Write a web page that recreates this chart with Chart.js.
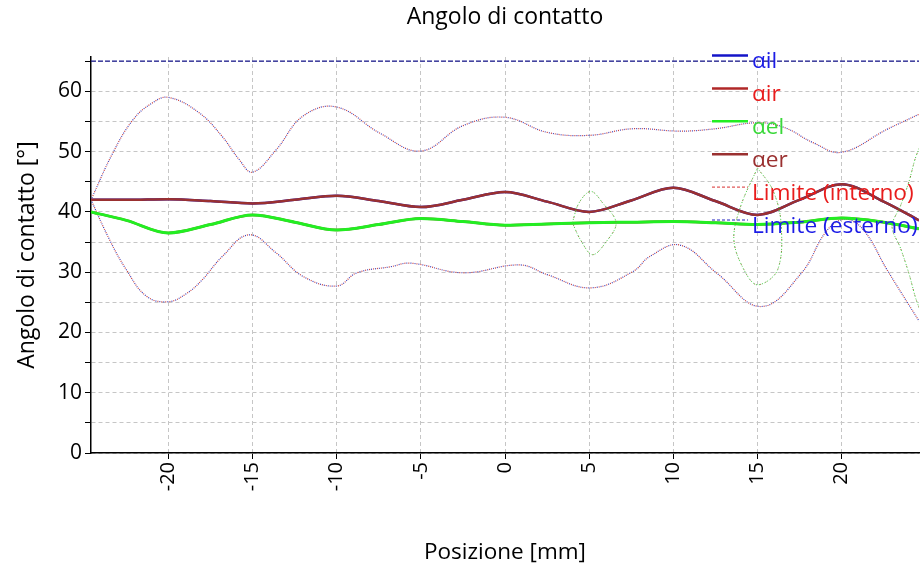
<!DOCTYPE html>
<html>
<head>
<meta charset="utf-8">
<title>Angolo di contatto</title>
<script src="https://cdn.jsdelivr.net/npm/chart.js@4.4.1/dist/chart.umd.min.js"></script>
<style>
  html, body { margin: 0; padding: 0; background: #fff; }
</style>
</head>
<body>
<canvas id="myChart" width="920" height="574"></canvas>
<script>
// ---------------- data ----------------
const posizione = [-24.6, -22.5, -20, -17.5, -15, -12.5, -10, -7.5, -5, -2.5, 0, 2.5, 5, 7.5, 10, 12.5, 15, 17.5, 20, 22.5, 24.6];
const alphaEr = [42.0, 42.0, 42.1, 41.8, 41.4, 42.0, 42.7, 41.8, 40.8, 42.0, 43.3, 41.7, 40.0, 41.9, 44.0, 41.8, 39.5, 42.0, 44.6, 41.7, 38.6];
const alphaEl = [40.0, 38.6, 36.5, 37.9, 39.5, 38.3, 37.0, 37.9, 38.9, 38.4, 37.8, 38.0, 38.2, 38.3, 38.4, 38.2, 37.9, 38.3, 39.0, 38.3, 37.2];
const alphaIl = [42.0, 42.0, 42.1, 41.8, 41.4, 42.0, 42.7, 41.8, 40.8, 42.0, 43.3, 41.7, 40.0, 41.9, 44.0, 41.8, 39.5, 42.0, 44.6, 41.7, 38.6];
const alphaIr = [40.0, 38.6, 36.5, 37.9, 39.5, 38.3, 37.0, 37.9, 38.9, 38.4, 37.8, 38.0, 38.2, 38.3, 38.4, 38.2, 37.9, 38.3, 39.0, 38.3, 37.2];

// limit envelope, upper branch
const limSupX = [-24.6, -23.3, -22.1, -21.0, -20, -18.2, -16.8, -15.8, -15, -13.6, -12, -10, -7.4, -5, -2.5, 0, 2.5, 5, 7.6, 10.4, 12.5, 15, 16.6, 18.3, 20, 22.7, 24.6];
const limSupY = [42.0, 49.8, 55.3, 58.0, 59.0, 56.5, 52.5, 48.7, 46.6, 50.3, 55.9, 57.4, 53.0, 50.1, 54.3, 55.7, 53.2, 52.7, 53.8, 53.4, 53.8, 54.8, 54.0, 51.5, 49.9, 53.7, 56.2];
// limit envelope, lower branch
const limInfX = [-24.6, -23.5, -22.5, -21.3, -20, -18.9, -18, -16.8, -15.2, -13.6, -12, -10, -8.8, -6.8, -5.6, -2.5, 0.9, 2.5, 5.1, 7.6, 8.6, 10.4, 12.6, 15.2, 17.6, 19.1, 20.2, 21.3, 22.7, 24.6];
const limInfY = [42.0, 35.4, 30.4, 26.0, 25.1, 26.5, 28.7, 32.6, 36.2, 33.2, 29.3, 27.7, 29.9, 30.9, 31.5, 29.9, 31.2, 29.6, 27.4, 30.1, 32.6, 34.5, 29.8, 24.3, 29.8, 36.8, 38.8, 37.0, 30.4, 21.9];
// outer limit line at the top
const limEstX = [-24.6, 24.6];
const limEstY = [65, 65];

// dotted loops
const loop5X = [4.0, 4.4, 5.1, 5.8, 6.6, 6.0, 5.2, 4.5, 4.0];
const loop5Y = [38.2, 41.5, 43.4, 41.5, 38.2, 35.0, 32.9, 35.3, 38.2];
const loop15X = [15.0, 15.9, 16.4, 16.2, 15.0, 14.2, 13.6, 14.0, 15.0];
const loop15Y = [47.3, 43.7, 38.2, 30.4, 27.9, 30.4, 35.4, 40.9, 47.3];
const loop24X = [25.3, 24.5, 24.0, 23.5, 23.0, 23.5, 24.0, 24.5, 25.3];
const loop24Y = [54.0, 49.8, 45.0, 41.0, 37.6, 34.0, 29.8, 24.9, 20.0];

const yTicksMax = 65.7;
const fontFamily = '"Open Sans", "Noto Sans", sans-serif';

function toPoints(xs, ys){
  return xs.map((x, i) => ({x: x, y: ys[i]}));
}

function curve(label, xs, ys, color, width, dash, order){
  return {
    label: label,
    data: toPoints(xs, ys),
    borderColor: color,
    borderWidth: width,
    borderDash: dash || [],
    pointRadius: 0,
    cubicInterpolationMode: 'monotone',
    order: order
  };
}

// dotted envelope: plain bezier so it stays round
function envelope(label, xs, ys, color, offset){
  return {
    label: label,
    data: toPoints(xs, ys),
    borderColor: color,
    borderWidth: 1.2,
    borderDash: [1, 3],
    borderDashOffset: offset,
    pointRadius: 0,
    tension: 0.4,
    order: 5
  };
}

function loop(xs, ys, color, dash, offset){
  return {
    data: toPoints(xs, ys),
    borderColor: color,
    borderWidth: 1,
    borderDash: dash,
    borderDashOffset: offset,
    pointRadius: 0,
    tension: 0.35,
    order: 0
  };
}

//------------------ datasets ---------------------
let ilSet = curve('αil', posizione, alphaIl, '#1e1ec8', 2.5, null, 8);
ilSet.legend = {color: '#1414c8', text: '#1c1ce6', width: 2.5, dash: []};
let irSet = curve('αir', posizione, alphaIr, '#b02828', 2.5, null, 8);
irSet.legend = {color: '#b02828', text: '#e81c1c', width: 2.5, dash: []};
let elSet = curve('αel', posizione, alphaEl, '#22ee22', 3, null, 2);
elSet.legend = {color: '#22ee22', text: '#3ad83a', width: 2.5, dash: []};
let erSet = curve('αer', posizione, alphaEr, '#9a3030', 2.5, null, 1);
erSet.legend = {color: '#9a3030', text: '#9a3030', width: 2.5, dash: []};
let limIntSup = envelope('Limite (interno)', limSupX, limSupY, '#c84040', 0);
limIntSup.legend = {color: '#d83030', text: '#e81c1c', width: 1, dash: [3, 2]};
let limEstSup = envelope('Limite (esterno)', limSupX, limSupY, '#4040b8', 2);
limEstSup.legend = {color: '#2020c0', text: '#1c1ce6', width: 1, dash: [3, 2]};

let limIntInf = envelope(null, limInfX, limInfY, '#c84040', 0);
let limEstInf = envelope(null, limInfX, limInfY, '#4040b8', 2);
let limTop = curve(null, limEstX, limEstY, '#1a1a90', 1.2, [5, 2], 5);

const datasets = [
  ilSet, irSet, elSet, erSet, limIntSup, limEstSup,
  limIntInf, limEstInf, limTop,
  loop(loop5X, loop5Y, '#44d044', [1, 2], 0),
  loop(loop5X, loop5Y, '#8a6a30', [1, 5], 1),
  loop(loop15X, loop15Y, '#44d044', [1, 2], 0),
  loop(loop15X, loop15Y, '#8a6a30', [1, 5], 1),
  loop(loop24X, loop24Y, '#44d044', [1, 2], 0),
  loop(loop24X, loop24Y, '#8a6a30', [1, 5], 1)
];

// legend drawn inside the plot, top right
const legendInPlot = {
  id: 'legendInPlot',
  afterDatasetsDraw(chart){
    let ctx = chart.ctx;
    let row = 0;
    chart.data.datasets.forEach(ds => {
      if(!ds.label) return;
      let y = 55.5 + row * 32.9;
      ctx.save();
      ctx.strokeStyle = ds.legend.color;
      ctx.lineWidth = ds.legend.width;
      ctx.setLineDash(ds.legend.dash);
      ctx.beginPath();
      ctx.moveTo(712, y);
      ctx.lineTo(748, y);
      ctx.stroke();
      ctx.font = '22.7px ' + fontFamily;
      ctx.fillStyle = ds.legend.text;
      ctx.textBaseline = 'alphabetic';
      ctx.fillText(ds.label, 752, y + 12.8);
      ctx.restore();
      row++;
    });
  }
};

function drawChart(){
  let myChart = document.getElementById('myChart').getContext('2d');

  new Chart(myChart, {
    type: 'line',
    data: { datasets: datasets },
    plugins: [legendInPlot],
    options: {
      responsive: false,
      animation: false,
      layout: { padding: { top: 0, right: 1, bottom: 0, left: 0 } },
      plugins: {
        legend: { display: false },
        tooltip: { enabled: false },
        title: {
          display: true,
          text: 'Angolo di contatto',
          fullSize: false,
          color: '#000',
          font: { family: fontFamily, size: 23, weight: 'normal' },
          padding: { top: 4, bottom: 25.4 }
        }
      },
      scales: {
        x: {
          type: 'linear',
          min: -24.6,
          max: 24.6,
          afterFit: (scale) => { scale.height = 121; },
          ticks: {
            stepSize: 5,
            includeBounds: false,
            minRotation: 90,
            maxRotation: 90,
            color: '#000',
            padding: 3,
            font: { family: fontFamily, size: 20 }
          },
          grid: { color: '#c6c6c6', tickColor: '#000', tickLength: 6, tickBorderDash: [] },
          border: { color: '#000', width: 1.5, dash: [4, 3] },
          title: {
            display: true,
            text: 'Posizione [mm]',
            color: '#000',
            font: { family: fontFamily, size: 22.5 },
            padding: { top: 0, bottom: 7.5 }
          }
        },
        y: {
          min: 0,
          max: yTicksMax,
          afterFit: (scale) => { scale.width = 91; },
          ticks: {
            stepSize: 5,
            includeBounds: false,
            color: '#000',
            padding: 3,
            font: { family: fontFamily, size: 21 },
            callback: (v) => (v % 10 === 0 ? v : '')
          },
          grid: { color: '#c6c6c6', tickColor: '#000', tickLength: 6, tickBorderDash: [] },
          border: { color: '#000', width: 1.5, dash: [4, 3] },
          title: {
            display: true,
            text: 'Angolo di contatto [°]',
            color: '#000',
            font: { family: fontFamily, size: 23 },
            padding: { top: 14, bottom: 0 }
          }
        }
      }
    }
  });
}

drawChart();
</script>
</body>
</html>
